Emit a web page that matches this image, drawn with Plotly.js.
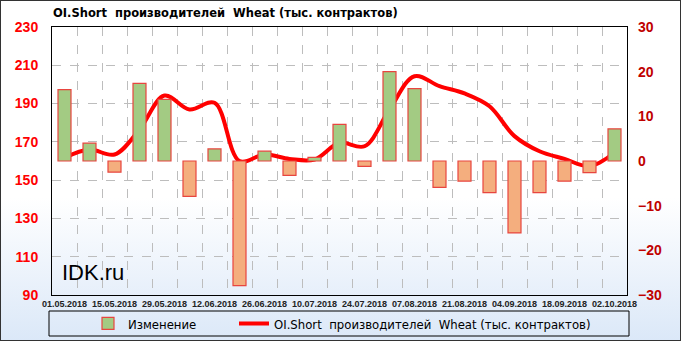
<!DOCTYPE html>
<html>
<head>
<meta charset="utf-8">
<script src="https://cdn.plot.ly/plotly-3.0.1.min.js"></script>
<style>
html,body{margin:0;padding:0;}
#wrap{position:relative;width:681px;height:341px;background:linear-gradient(to bottom,#ffffff 0%,#ffffff 58%,#dbe8f8 100%);}
#chart{position:absolute;left:0;top:0;width:681px;height:341px;}
#frame{position:absolute;left:0;top:0;width:681px;height:341px;box-sizing:border-box;border:1px solid #333;pointer-events:none;}
</style>
</head>
<body>
<div id="wrap"><div id="chart"></div><div id="frame"></div></div>
<script>
// Weekly report dates
const dates = ["2018-05-01","2018-05-08","2018-05-15","2018-05-22","2018-05-29","2018-06-05","2018-06-12","2018-06-19","2018-06-26","2018-07-03","2018-07-10","2018-07-17","2018-07-24","2018-07-31","2018-08-07","2018-08-14","2018-08-21","2018-08-28","2018-09-04","2018-09-11","2018-09-18","2018-09-25","2018-10-02"];
// Weekly change (right axis)
const changes = [16, 4, -2.5, 17.4, 13.8, -7.9, 2.7, -27.9, 2.2, -3.2, 0.8, 8.2, -1.2, 20, 16.2, -5.9, -4.5, -7.1, -16.1, -7.1, -4.5, -2.6, 7.2];
// OI.Short producers Wheat, thousand contracts (left axis)
const oiShort = [161.7, 166, 163.4, 176.5, 194.2, 186.9, 190.4, 160, 163.4, 161.1, 160.8, 169.5, 167.7, 186.9, 204.3, 199.1, 195.3, 188.6, 173, 165.1, 161.1, 157.3, 164.3];
const barName = "Изменение";
const lineName = "OI.Short  производителей  Wheat (тыс. контрактов)";
const titleText = "OI.Short  производителей  Wheat (тыс. контрактов)";

const WEEK = 7*24*3600*1000;
const W = 681, H = 341;
const mL = 52, mR = 54, mT = 27, mB = 46;
const pw = W - mL - mR, ph = H - mT - mB;
const px = x => (x - mL) / pw;
const py = y => (H - mB - y) / ph;

const barTrace = {
  type: 'bar', name: barName, x: dates, y: changes, yaxis: 'y2', legend: 'legend',
  width: 0.52*WEEK,
  marker: {color: changes.map(v => v >= 0 ? '#a3cb83' : '#f4ae7e'),
           line: {color: '#e8453f', width: 1.2}},
  hoverinfo: 'x+y'
};
const lineTrace = {
  type: 'scatter', mode: 'lines', name: lineName, x: dates, y: oiShort, yaxis: 'y', legend: 'legend2',
  line: {color: '#ff0000', width: 4, shape: 'spline', smoothing: 1}
};

const legendFont = {family: 'Liberation Sans Narrow, DejaVu Sans Condensed, Liberation Sans', size: 13, color: '#000'};
const layout = {
  width: W, height: H,
  margin: {l: mL, r: mR, t: mT, b: mB, pad: 0, autoexpand: false},
  paper_bgcolor: 'rgba(0,0,0,0)', plot_bgcolor: 'rgba(0,0,0,0)',
  title: {text: '<b>' + titleText + '</b>', xref: 'container', yref: 'container',
          x: 53/W, xanchor: 'left', y: 1 - 13/H, yanchor: 'middle',
          font: {family: 'DejaVu Sans', size: 11.5, color: '#000'}},
  showlegend: true,
  legend: {orientation: 'h', x: px(88), xanchor: 'left', y: py(323.5), yanchor: 'middle',
           bgcolor: 'rgba(0,0,0,0)', borderwidth: 0, font: legendFont},
  legend2: {orientation: 'h', x: px(234), xanchor: 'left', y: py(323.5), yanchor: 'middle',
           bgcolor: 'rgba(0,0,0,0)', borderwidth: 0, font: legendFont},
  bargap: 0,
  xaxis: {type: 'date', range: [new Date(Date.parse('2018-05-01') - WEEK/2).toISOString(), new Date(Date.parse('2018-10-02') + WEEK/2).toISOString()],
          tick0: '2018-05-01', dtick: 2*WEEK, tickformat: '%d.%m.%Y', ticks: '', showgrid: false,
          tickfont: {family: 'Liberation Sans', size: 9, color: '#222', weight: 'bold'},
          showline: true, linecolor: '#000', linewidth: 1, mirror: true, zeroline: false,
          minor: {tick0: new Date(Date.parse('2018-05-01') + WEEK/2).toISOString(), dtick: WEEK, showgrid: true,
                  gridcolor: '#bdbdbd', griddash: 'dash', gridwidth: 1, ticks: ''},
          fixedrange: true},
  yaxis: {range: [90, 230], dtick: 20, tick0: 90, showgrid: true, gridcolor: '#bdbdbd', griddash: 'dash',
          tickfont: {family: 'Liberation Sans', size: 14, color: '#ff0000', weight: 'bold'},
          ticklabelstandoff: 10,
          showline: true, linecolor: '#000', linewidth: 1, mirror: true, zeroline: false, ticks: ''},
  yaxis2: {range: [-30, 30], dtick: 10, overlaying: 'y', side: 'right', showgrid: false, zeroline: false,
           tickfont: {family: 'Liberation Sans', size: 14, color: '#c00000', weight: 'bold'},
           ticklabelstandoff: 10, ticks: ''},
  shapes: [{type: 'rect', xref: 'paper', yref: 'paper', x0: px(49), x1: px(629), y0: py(336), y1: py(311),
            line: {color: '#000', width: 1}, fillcolor: 'rgba(0,0,0,0)'}],
  annotations: [{text: 'IDK.ru', xref: 'paper', yref: 'paper', x: px(60), y: py(272), xanchor: 'left', yanchor: 'middle',
                 showarrow: false, font: {family: 'Liberation Sans', size: 22, color: '#000'}}]
};

Plotly.newPlot('chart', [barTrace, lineTrace], layout, {displayModeBar: false, staticPlot: true});
</script>
</body>
</html>
